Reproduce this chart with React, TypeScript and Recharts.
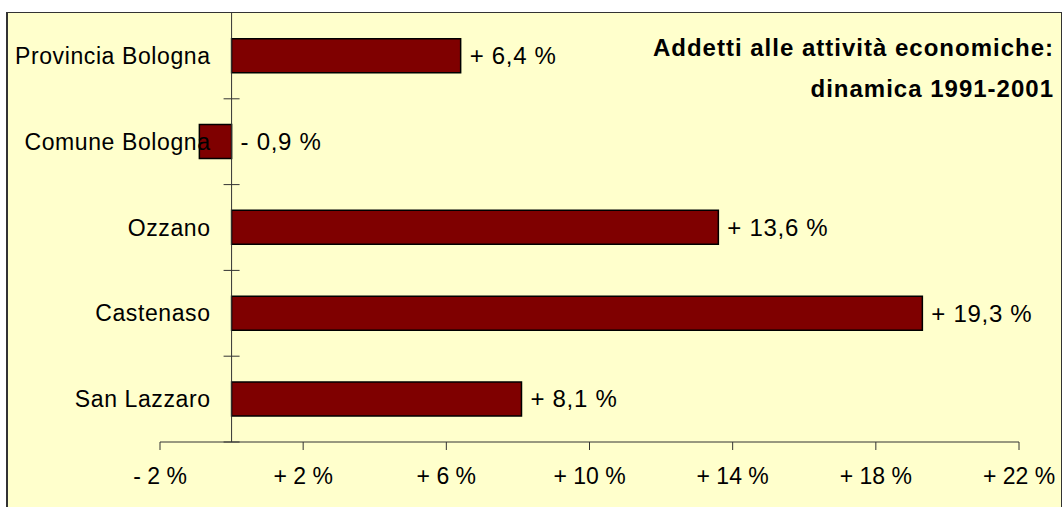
import React from "react";
import { Bar, BarChart, LabelList, ReferenceLine, XAxis, YAxis } from "recharts";

const comuni = ["Provincia Bologna", "Comune Bologna", "Ozzano", "Castenaso", "San Lazzaro"];
const variazioni = [6.4, -0.9, 13.6, 19.3, 8.1];
const xTicks = [-2, 2, 6, 10, 14, 18, 22];
const titolo = ["Addetti alle attività economiche:", "dinamica 1991-2001"];

const data = comuni.map((nome, i) => ({ nome, valore: variazioni[i] }));

const CHART_W = 1053;
const CHART_H = 494;
const Y_AXIS_W = 152;
const X_AXIS_H = 65;
const MARGIN_RIGHT = 42;
const PLOT_W = CHART_W - Y_AXIS_W - MARGIN_RIGHT;
const PLOT_H = CHART_H - X_AXIS_H;
const BAND = PLOT_H / comuni.length;
const X_MIN = -2;
const X_MAX = 22;
// where the zero line sits inside the plot area
const ZERO_OFFSET = ((0 - X_MIN) / (X_MAX - X_MIN)) * PLOT_W;

const FONT = "'Liberation Sans', Arial, sans-serif";
const AXIS_COLOR = "#333";

const formatPct = (v: number, decimals: number) =>
  (v >= 0 ? "+ " : "- ") + Math.abs(v).toFixed(decimals).replace(".", ",") + " %";

function CategoryTick(props: any) {
  const { x, y, payload } = props;
  const zero = x + ZERO_OFFSET;
  return (
    <g>
      <text
        x={zero - 21}
        y={y}
        textAnchor="end"
        dominantBaseline="central"
        fontSize={23}
        fontFamily={FONT}
        letterSpacing={0.6}
        fill="#000"
      >
        {payload.value}
      </text>
      <line x1={zero - 8} x2={zero + 8} y1={y + BAND / 2} y2={y + BAND / 2} stroke={AXIS_COLOR} strokeWidth={1} />
    </g>
  );
}

function ValueLabel(props: any) {
  const { x, y, width, height, value } = props;
  const right = Math.max(x, x + width);
  return (
    <text
      x={right + 9}
      y={y + height / 2}
      dominantBaseline="central"
      fontSize={24}
      fontFamily={FONT}
      letterSpacing={0.7}
      fill="#000"
    >
      {formatPct(value, 1)}
    </text>
  );
}

export default function App() {
  return (
    <div
      style={{
        position: "absolute",
        left: 6,
        top: 12,
        width: CHART_W,
        height: CHART_H + 10,
        background: "#FFFFCC",
        borderLeft: "2px solid #333",
        borderTop: "1px solid #333",
        borderRight: "1px solid #333",
      }}
    >
      <div
        style={{
          position: "absolute",
          right: 7,
          top: 14,
          textAlign: "right",
          fontFamily: FONT,
          fontWeight: "bold",
          fontSize: 24,
          letterSpacing: 1,
          lineHeight: "41px",
          color: "#000",
        }}
      >
        {titolo.map((riga) => (
          <div key={riga}>{riga}</div>
        ))}
      </div>
      <BarChart
        width={CHART_W}
        height={CHART_H}
        data={data}
        layout="vertical"
        margin={{ top: 0, right: MARGIN_RIGHT, bottom: 0, left: 0 }}
        barCategoryGap="30%"
        style={{ position: "absolute", left: 0, top: 0 }}
      >
        <XAxis
          type="number"
          domain={[X_MIN, X_MAX]}
          ticks={xTicks}
          allowDataOverflow
          height={X_AXIS_H}
          stroke={AXIS_COLOR}
          tickSize={8}
          tickMargin={18}
          tick={{ fontSize: 23, fontFamily: FONT, fill: "#000" }}
          tickFormatter={(v: number) => formatPct(v, 0)}
        />
        <YAxis
          type="category"
          dataKey="nome"
          width={Y_AXIS_W}
          axisLine={false}
          tickLine={false}
          tickSize={0}
          tickMargin={0}
          interval={0}
          tick={<CategoryTick />}
        />
        <ReferenceLine x={0} stroke={AXIS_COLOR} strokeWidth={1} />
        <Bar dataKey="valore" fill="#7F0000" stroke="#000" strokeWidth={1.5} isAnimationActive={false}>
          <LabelList dataKey="valore" content={<ValueLabel />} />
        </Bar>
      </BarChart>
    </div>
  );
}
